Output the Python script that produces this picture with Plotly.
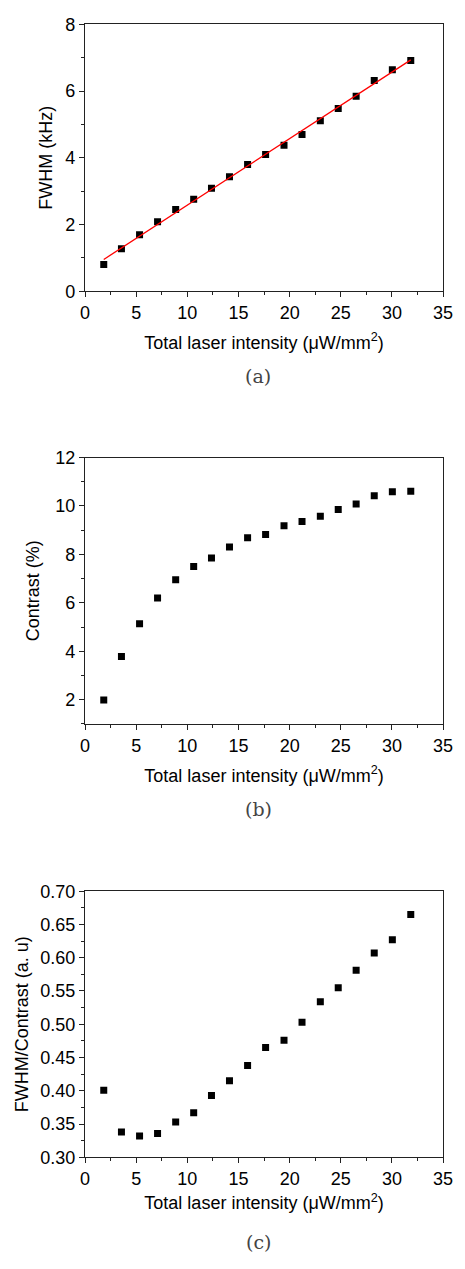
import numpy as np
import plotly.graph_objects as go

# Data
intensity = [1.83, 3.56, 5.33, 7.09, 8.86, 10.62, 12.36, 14.12, 15.89, 17.65,
             19.45, 21.21, 23.0, 24.75, 26.5, 28.27, 30.04, 31.84]
fwhm_khz = [0.80, 1.27, 1.69, 2.08, 2.45, 2.76, 3.09, 3.43, 3.80, 4.10,
            4.38, 4.70, 5.11, 5.48, 5.85, 6.32, 6.64, 6.92]
contrast_pct = [1.99, 3.78, 5.14, 6.20, 6.95, 7.50, 7.85, 8.30, 8.69, 8.82,
                9.18, 9.36, 9.57, 9.85, 10.08, 10.42, 10.59, 10.61]
ratio_au = [0.401, 0.338, 0.332, 0.336, 0.353, 0.367, 0.393, 0.415, 0.438, 0.465,
            0.476, 0.503, 0.534, 0.555, 0.581, 0.607, 0.627, 0.665]

x_title = "Total laser intensity (μW/mm<sup>2</sup>)"
y_titles = ["FWHM (kHz)", "Contrast (%)", "FWHM/Contrast (a. u)"]
captions = ["(a)", "(b)", "(c)"]

# linear fit for panel (a)
slope, icpt = np.polyfit(intensity, fwhm_khz, 1)
fit_x = [intensity[0], intensity[-1]]
fit_y = [icpt + slope * v for v in fit_x]

W, H = 465, 1269
xdom = [82.7 / W, 452.7 / W]
panels_px = [(14.7, 285.7), (454.7, 725.3), (895.3, 1165.7)]
ydoms = [[1 - b / H, 1 - t / H] for t, b in panels_px]

fig = go.Figure()
marker = dict(symbol="square", size=7, color="black", line=dict(width=0))

fig.add_trace(go.Scatter(x=intensity, y=fwhm_khz, mode="markers", marker=marker,
                         xaxis="x", yaxis="y", showlegend=False))
fig.add_trace(go.Scatter(x=fit_x, y=fit_y, mode="lines", line=dict(color="#ff0000", width=1.3),
                         xaxis="x", yaxis="y", showlegend=False))
fig.add_trace(go.Scatter(x=intensity, y=contrast_pct, mode="markers", marker=marker,
                         xaxis="x2", yaxis="y2", showlegend=False))
fig.add_trace(go.Scatter(x=intensity, y=ratio_au, mode="markers", marker=marker,
                         xaxis="x3", yaxis="y3", showlegend=False))

font = dict(family="Liberation Sans, Arial, sans-serif", size=18, color="black")
axcommon = dict(showline=True, linecolor="#222", linewidth=1.2, mirror=True,
                ticks="outside", ticklen=5, tickwidth=1.2, tickcolor="#222",
                showgrid=False, zeroline=False, tickfont=font, ticklabeloverflow="allow")

yranges = [[0, 8], [1, 12], [0.30, 0.70]]
ydticks = [2, 2, 0.05]
yminor = [1, 1, 0.025]
ytick0 = [0, 0, 0.3]
yfmt = ["", "", ".2f"]
xstand = [14, 14, 8]
ystand = [8, 10, 6]

layout = dict(width=W, height=H, autosize=False, margin=dict(l=0, r=0, t=0, b=0),
              plot_bgcolor="white", paper_bgcolor="white", font=font)
for i in range(3):
    sx = "" if i == 0 else str(i + 1)
    layout["xaxis" + sx] = dict(axcommon, domain=xdom, range=[0, 35], tick0=0, dtick=5,
                                anchor="y" + sx,
                                minor=dict(ticks="outside", ticklen=3, tickwidth=1.2,
                                           tickcolor="#222", dtick=2.5, tick0=0),
                                title=dict(text=x_title, font=font, standoff=xstand[i]))
    layout["yaxis" + sx] = dict(axcommon, domain=ydoms[i], range=yranges[i], tick0=ytick0[i],
                                dtick=ydticks[i], tickformat=yfmt[i], anchor="x" + sx,
                                minor=dict(ticks="outside", ticklen=3, tickwidth=1.2,
                                           tickcolor="#222", dtick=yminor[i], tick0=ytick0[i]),
                                title=dict(text=y_titles[i], font=font, standoff=ystand[i]))
fig.update_layout(**layout)

cap_y = [371.7, 811.7, 1251.7]
for i in range(3):
    fig.add_annotation(text=captions[i], xref="paper", yref="paper", x=261.7 / W,
                       y=1 - cap_y[i] / H, xanchor="center", yanchor="middle",
                       showarrow=False,
                       font=dict(family="DejaVu Serif, Liberation Serif, serif", size=19, color="#444"))

# remove the default 8px body margin so the figure fills the window exactly
fig.write_html("out.html", config={"displayModeBar": False},
               post_script="document.body.style.margin='0';document.body.style.overflow='hidden';")
